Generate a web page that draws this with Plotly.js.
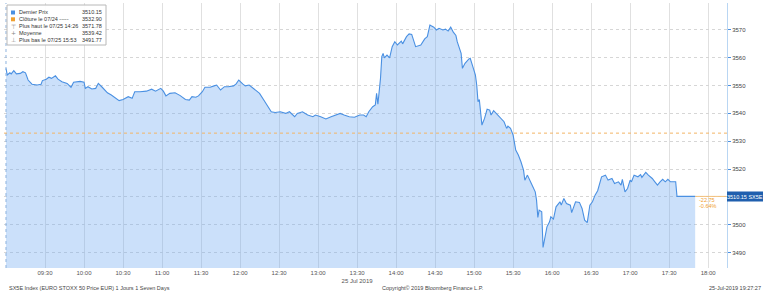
<!DOCTYPE html>
<html><head><meta charset="utf-8">
<script src="https://cdn.plot.ly/plotly-3.0.1.min.js"></script>
<style>html,body{margin:0;padding:0;background:#fff;}#c{width:767px;height:294px;}</style>
</head><body><div id="c"></div>
<script>
var day = '2019-07-25 ';
var times = ['09:00','09:01','09:03','09:04','09:06','09:08','09:11','09:13','09:15','09:17','09:20','09:24','09:27','09:28','09:31','09:33','09:35','09:38','09:40','09:43','09:47','09:50','09:52','09:57','10:00','10:01','10:03','10:06','10:09','10:11','10:14','10:18','10:21','10:27','10:30','10:34','10:37','10:39','10:43','10:48','10:52','10:55','10:59','11:01','11:03','11:06','11:10','11:14','11:18','11:21','11:23','11:26','11:28','11:31','11:33','11:37','11:40','11:42','11:45','11:48','11:51','11:55','11:57','11:59','12:02','12:04','12:07','12:09','12:12','12:15','12:18','12:21','12:24','12:27','12:31','12:35','12:38','12:42','12:44','12:48','12:52','12:56','12:58','13:02','13:06','13:10','13:14','13:17','13:20','13:24','13:28','13:32','13:35','13:37','13:39','13:42','13:44','13:45','13:46','13:48','13:49','13:50','13:51','13:53','13:55','13:57','13:59','14:01','14:04','14:05','14:08','14:10','14:12','14:14','14:15','14:19','14:22','14:24','14:26','14:27','14:29','14:31','14:33','14:36','14:38','14:40','14:42','14:44','14:46','14:47','14:49','14:50','14:51','14:53','14:56','14:57','14:59','15:01','15:02','15:03','15:04','15:06','15:08','15:10','15:12','15:13','15:15','15:18','15:20','15:23','15:25','15:26','15:28','15:30','15:32','15:34','15:36','15:38','15:39','15:41','15:44','15:47','15:48','15:49','15:50','15:52','15:53','15:56','15:58','15:59','16:01','16:03','16:06','16:07','16:09','16:11','16:14','16:15','16:18','16:21','16:23','16:25','16:27','16:29','16:31','16:33','16:35','16:38','16:41','16:43','16:46','16:48','16:51','16:53','16:54','16:56','16:58','17:00','17:01','17:03','17:06','17:08','17:09','17:12','17:14','17:17','17:19','17:21','17:23','17:25','17:27','17:29','17:31','17:33','17:35','17:36','17:50'];
var prices = [3556.2,3553.8,3554.6,3554.2,3555.4,3554.2,3554.4,3555.0,3554.6,3552.0,3550.5,3550.2,3550.5,3551.8,3552.3,3553.0,3552.6,3553.5,3552.3,3551.4,3550.8,3549.4,3551.2,3551.5,3551.2,3549.0,3549.6,3548.8,3549.0,3550.8,3549.4,3547.4,3546.6,3544.6,3545.0,3546.0,3545.4,3547.8,3547.8,3548.0,3548.7,3548.0,3549.0,3548.0,3546.3,3547.2,3547.4,3546.4,3545.0,3544.8,3546.0,3545.8,3546.3,3547.8,3549.4,3549.4,3549.9,3550.2,3548.4,3549.6,3549.6,3549.9,3550.6,3552.0,3550.6,3549.9,3550.2,3549.4,3548.2,3547.2,3545.0,3543.0,3540.6,3540.3,3540.6,3540.0,3540.6,3538.8,3540.0,3540.6,3539.4,3538.8,3539.4,3538.8,3538.0,3538.8,3539.4,3540.0,3539.4,3538.8,3538.6,3539.4,3539.4,3538.8,3540.6,3542.4,3543.0,3547.2,3543.3,3552.6,3560.4,3561.6,3560.0,3561.0,3560.0,3564.0,3565.8,3564.6,3566.0,3565.0,3567.6,3568.6,3568.4,3564.9,3564.0,3564.6,3566.8,3567.6,3571.78,3571.5,3571.0,3570.0,3570.6,3570.0,3570.3,3569.6,3571.0,3569.2,3568.0,3565.8,3562.8,3561.6,3556.2,3558.0,3559.6,3559.8,3556.8,3553.8,3550.2,3544.2,3545.0,3535.8,3538.2,3541.5,3541.2,3539.4,3541.0,3539.4,3538.2,3537.0,3534.6,3535.4,3534.6,3532.2,3526.8,3525.0,3522.6,3519.6,3516.0,3517.8,3514.8,3511.8,3508.8,3502.6,3505.2,3504.6,3491.77,3499.2,3501.0,3502.8,3502.0,3506.4,3508.2,3507.0,3509.4,3507.6,3507.0,3504.3,3508.2,3508.0,3505.8,3501.6,3500.7,3507.0,3508.2,3510.6,3512.2,3517.2,3517.8,3516.0,3516.6,3514.8,3515.4,3514.2,3516.3,3511.8,3513.0,3516.0,3515.4,3517.8,3517.2,3518.0,3517.0,3518.8,3517.8,3516.6,3515.4,3514.2,3515.4,3516.3,3515.4,3516.3,3515.4,3515.4,3515.4,3510.15,3510.15];
var xTicks = ['09:30','10:00','10:30','11:00','11:30','12:00','12:30','13:00','13:30','14:00','14:30','15:00','15:30','16:00','16:30','17:00','17:30','18:00'];
var xTickText = ['09:30','10:00','10:30','11:00','11:30','12:00','12:30','13:00','13:30<br>25 Jul 2019','14:00','14:30','15:00','15:30','16:00','16:30','17:00','17:30','18:00'];
var yTicks = [3490,3500,3510,3520,3530,3540,3550,3560,3570];
var yTickText = ['3490','3500','','3520','3530','3540','3550','3560','3570'];
var legendLabels = ['Dernier Prix','Clôture le 07/24 -----','Plus haut le 07/25 14:26','Moyenne','Plus bas le 07/25 15:53'];
var legendValues = ['3510.15','3532.90','3571.78','3539.42','3491.77'];
var lastPrice = 3510.15, prevClose = 3532.90;
var change = '-22.75', changePct = '-0.64%';
var footerLeft = 'SX5E Index (EURO STOXX 50 Price EUR) 1 Jours 1 Seven Days';
var footerMid = 'Copyright© 2019 Bloomberg Finance L.P.';
var footerRight = '25-Jul-2019 19:27:27';

var F = 'Liberation Sans, Arial, sans-serif';
function px(x){return (x-4)/723;}
function py(y){return (268-y)/265;}

var xs = times.map(function(t){return day+t;});
var trace = {x: xs, y: prices, type:'scatter', mode:'lines',
  line:{color:'#4a90e2', width:1.1}, fill:'tozeroy', fillcolor:'rgba(110,170,240,0.36)', hoverinfo:'skip'};

var shapes = [
  {type:'line', xref:'x', yref:'paper', x0:day+'09:00', x1:day+'09:00', y0:0, y1:1, line:{color:'#8fb4de', width:1, dash:'dot'}},
  {type:'line', xref:'paper', yref:'y', x0:0, x1:1, y0:prevClose, y1:prevClose, line:{color:'#f3b565', width:1, dash:'dot'}},
  {type:'line', xref:'x', yref:'y', x0:xs[xs.length-1], x1:day+'18:14', y0:lastPrice, y1:lastPrice, line:{color:'#f3c07a', width:1}},
  {type:'rect', xref:'paper', yref:'paper', x0:px(7), x1:px(106), y0:py(45), y1:py(5), line:{color:'#b8b8b8', width:1}, fillcolor:'rgba(255,255,255,0.92)', layer:'above'},
  {type:'rect', xref:'paper', yref:'paper', x0:px(11), x1:px(15), y0:py(14.5), y1:py(10.5), line:{width:0}, fillcolor:'#4a90e2', layer:'above'},
  {type:'rect', xref:'paper', yref:'paper', x0:px(11), x1:px(15), y0:py(21.3), y1:py(17.3), line:{width:0}, fillcolor:'#f0a030', layer:'above'},
  {type:'rect', xref:'paper', yref:'paper', x0:px(727), x1:px(763), y0:py(201.5), y1:py(191.5), line:{width:0}, fillcolor:'#1f5fae', layer:'above'}
];

var icons = ['','','⊤','+','⊥'];
var rowY = [12.5,19.3,26.1,32.9,39.7];
var ann = [];
for (var i=0;i<legendLabels.length;i++){
  if (icons[i]) ann.push({xref:'paper', yref:'paper', x:px(13), y:py(rowY[i]), text:icons[i], showarrow:false, xanchor:'center', yanchor:'middle', font:{family:'DejaVu Sans', size:6, color:'#888'}});
  ann.push({xref:'paper', yref:'paper', x:px(17), y:py(rowY[i]), text:legendLabels[i], showarrow:false, xanchor:'left', yanchor:'middle', font:{family:F, size:5.5, color:'#333'}});
  ann.push({xref:'paper', yref:'paper', x:px(104), y:py(rowY[i]), text:legendValues[i], showarrow:false, xanchor:'right', yanchor:'middle', font:{family:F, size:5.5, color:'#333'}});
}
ann.push({xref:'paper', yref:'paper', x:px(745), y:py(196.5), text:lastPrice.toFixed(2)+' SX5E', showarrow:false, xanchor:'center', yanchor:'middle', font:{family:F, size:5.5, color:'#fff'}});
ann.push({xref:'paper', yref:'paper', x:px(697), y:py(200), text:change, showarrow:false, xanchor:'left', yanchor:'middle', font:{family:F, size:5.5, color:'#f0a030'}});
ann.push({xref:'paper', yref:'paper', x:px(697), y:py(206.5), text:changePct, showarrow:false, xanchor:'left', yanchor:'middle', font:{family:F, size:5.5, color:'#f0a030'}});
ann.push({xref:'paper', yref:'paper', x:px(7), y:py(288), text:footerLeft, showarrow:false, xanchor:'left', yanchor:'middle', font:{family:F, size:5.5, color:'#444'}});
ann.push({xref:'paper', yref:'paper', x:px(380), y:py(288), text:footerMid, showarrow:false, xanchor:'left', yanchor:'middle', font:{family:F, size:5.5, color:'#444'}});
ann.push({xref:'paper', yref:'paper', x:px(763), y:py(288), text:footerRight, showarrow:false, xanchor:'right', yanchor:'middle', font:{family:F, size:5.5, color:'#444'}});

var layout = {
  width:767, height:294, margin:{l:4, r:40, t:3, b:26, pad:0},
  paper_bgcolor:'#fff', plot_bgcolor:'#fff', showlegend:false,
  xaxis:{type:'date', range:[day+'08:58:28', day+'18:14:28'], tickvals:xTicks.map(function(t){return day+t;}), ticktext:xTickText,
    showgrid:true, gridcolor:'#e0e0e0', gridwidth:1, zeroline:false, showline:false, ticks:'', automargin:false,
    tickfont:{family:F, size:6, color:'#555'}, fixedrange:true},
  yaxis:{side:'right', range:[3484.4, 3579.7], tickvals:yTicks, ticktext:yTickText, showgrid:true, gridcolor:'#d6d6d6', griddash:'dot', gridwidth:1,
    zeroline:false, showline:true, linecolor:'#b9d6f3', linewidth:1, ticks:'outside', ticklen:3, tickcolor:'#4a90e2', automargin:false,
    tickfont:{family:F, size:6, color:'#444'}, fixedrange:true},
  shapes:shapes, annotations:ann
};
Plotly.newPlot('c', [trace], layout, {displayModeBar:false, staticPlot:true});
</script></body></html>
